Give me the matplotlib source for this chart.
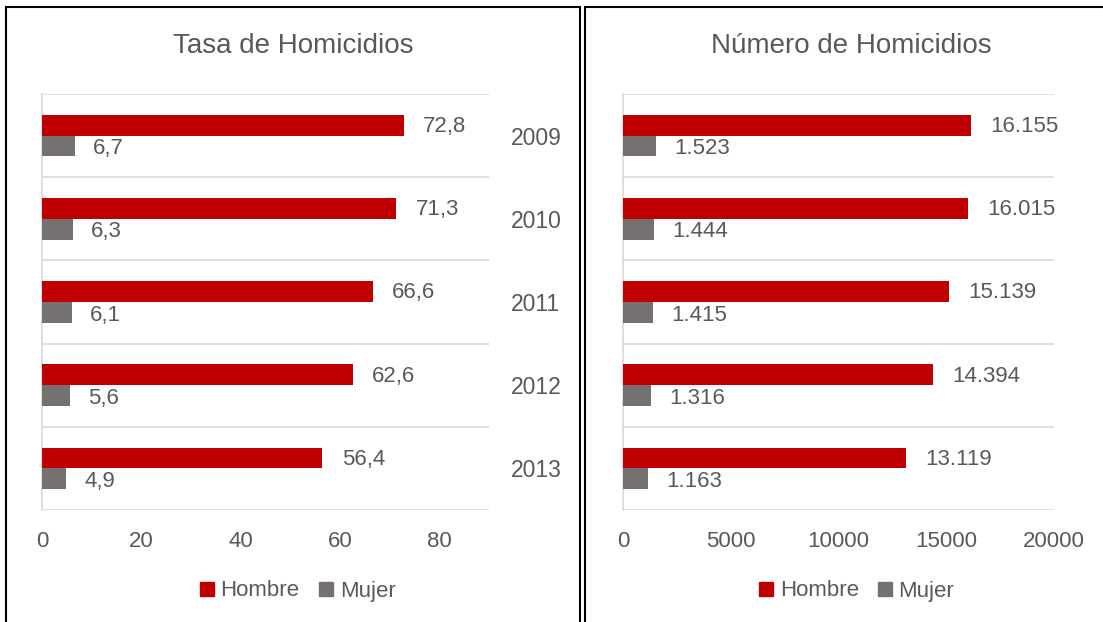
import numpy as np
import matplotlib
matplotlib.use("Agg")
import matplotlib.pyplot as plt
from matplotlib.patches import Rectangle
from matplotlib.lines import Line2D

years = ["2009", "2010", "2011", "2012", "2013"]
tasa_hombre = [72.8, 71.3, 66.6, 62.6, 56.4]
tasa_mujer = [6.7, 6.3, 6.1, 5.6, 4.9]
tasa_hombre_lbl = ["72,8", "71,3", "66,6", "62,6", "56,4"]
tasa_mujer_lbl = ["6,7", "6,3", "6,1", "5,6", "4,9"]
num_hombre = [16155, 16015, 15139, 14394, 13119]
num_mujer = [1523, 1444, 1415, 1316, 1163]
num_hombre_lbl = ["16.155", "16.015", "15.139", "14.394", "13.119"]
num_mujer_lbl = ["1.523", "1.444", "1.415", "1.316", "1.163"]

RED = "#C00000"
GRAY = "#767171"
TXT = "#595959"
GRID = "#D9D9D9"

plt.rcParams["font.family"] = ["Liberation Sans", "DejaVu Sans"]

W, H = 1103, 622
fig = plt.figure(figsize=(W / 100, H / 100), dpi=100)


def px_axes(x0, y0, x1, y1):
    return fig.add_axes([x0 / W, 1 - y1 / H, (x1 - x0) / W, (y1 - y0) / H])


def draw_panel(ax, hombre, mujer, h_lbl, m_lbl, xmax, xticks, show_years):
    y = np.arange(len(years))
    ax.barh(y - 0.125, hombre, height=0.25, color=RED, zorder=3)
    ax.barh(y + 0.125, mujer, height=0.25, color=GRAY, zorder=3)
    for i in range(len(years)):
        ax.annotate(h_lbl[i], (hombre[i], y[i] - 0.125), xytext=(14, -1),
                    textcoords="offset points", va="center", ha="left",
                    fontsize=16, color=TXT)
        ax.annotate(m_lbl[i], (mujer[i], y[i] + 0.125), xytext=(13, -2),
                    textcoords="offset points", va="center", ha="left",
                    fontsize=16, color=TXT)
    ax.set_xlim(0, xmax)
    ax.set_ylim(len(years) - 0.5, -0.5)
    ax.set_xticks(xticks)
    ax.tick_params(axis="x", length=0, pad=15, labelsize=16, labelcolor=TXT)
    ax.set_yticks(np.arange(-0.5, len(years)), minor=True)
    ax.grid(which="minor", axis="y", color=GRID, linewidth=1.2, zorder=0)
    ax.yaxis.tick_right()
    if show_years:
        ax.set_yticks(y)
        ax.set_yticklabels(years)
    else:
        ax.set_yticks([])
    ax.tick_params(axis="y", which="both", length=0, pad=16, labelsize=16.5,
                   labelcolor=TXT)
    for s in ["top", "right", "bottom"]:
        ax.spines[s].set_visible(False)
    ax.spines["left"].set_color(GRID)
    ax.spines["left"].set_linewidth(1.2)


ax1 = px_axes(42, 94, 489, 510)
draw_panel(ax1, tasa_hombre, tasa_mujer, tasa_hombre_lbl, tasa_mujer_lbl,
           90, [0, 20, 40, 60, 80], True)
ax2 = px_axes(623, 94, 1054, 510)
draw_panel(ax2, num_hombre, num_mujer, num_hombre_lbl, num_mujer_lbl,
           20000, [0, 5000, 10000, 15000, 20000], False)

fig.text(293 / W, 1 - 46 / H, "Tasa de Homicidios", ha="center", va="center",
         fontsize=20, color=TXT)
fig.text(851 / W, 1 - 46 / H, "Número de Homicidios", ha="center", va="center",
         fontsize=20, color=TXT)

handles = [Line2D([], [], marker="s", linestyle="none", markersize=10,
                  markerfacecolor=RED, markeredgecolor=RED),
           Line2D([], [], marker="s", linestyle="none", markersize=10,
                  markerfacecolor=GRAY, markeredgecolor=GRAY)]
for cx in [298, 857]:
    fig.legend(handles, ["Hombre", "Mujer"], loc="center",
               bbox_to_anchor=(cx / W, 1 - 591 / H), ncol=2, frameon=False,
               fontsize=16, labelcolor=TXT, handlelength=0.6,
               handletextpad=0.3, columnspacing=0.9)

# panel borders
fig.patches.append(Rectangle((6 / W, -0.02), 574 / W, 1.02 - 7 / H,
                             transform=fig.transFigure, fill=False,
                             edgecolor="black", linewidth=1.5))
fig.patches.append(Rectangle((585 / W, -0.02), 0.5, 1.02 - 7 / H,
                             transform=fig.transFigure, fill=False,
                             edgecolor="black", linewidth=1.5))

fig.savefig("out.png", dpi=100)
